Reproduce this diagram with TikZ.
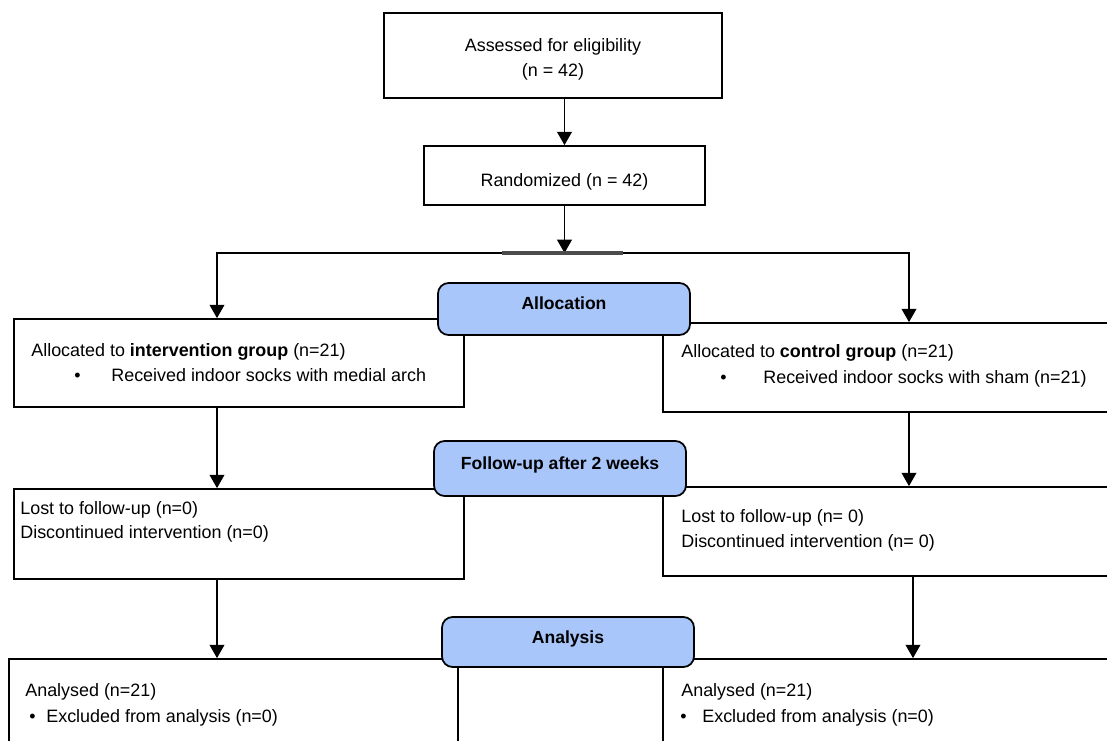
\documentclass[tikz,border=0pt]{standalone}
\usepackage{fontspec}
\setmainfont{Liberation Sans}
\usetikzlibrary{positioning,arrows.meta}
\definecolor{phaseblue}{RGB}{168,198,250}

\tikzset{
  box/.style={draw, line width=1pt, fill=white, inner sep=0pt},
  phase/.style={draw, line width=1pt, fill=phaseblue, rounded corners=6pt, inner sep=0pt},
  txt/.style={anchor=mid west, inner sep=0pt},
  arr/.style={line width=1pt, -{Triangle[width=8.4pt,length=7.6pt]}},
}

\begin{document}
\begin{tikzpicture}[x=0.02cm, y=-0.02cm, font=\fontsize{10.2}{14.2}\selectfont]
  \useasboundingbox (0,0) rectangle (1107,741);
  \clip (0,0) rectangle (1107,741);

  % enrolment
  \node[box, minimum width=6.76cm, minimum height=1.70cm] (assess) at (553,55.5) {};
  \node[align=center, inner sep=0pt] (assesstxt) at (553,59.5) {Assessed for eligibility\\(n = 42)};
  \node[box, minimum width=5.62cm, minimum height=1.18cm] (rand) at (564.5,175.5) {};
  \node[inner sep=0pt] (randtxt) at (564.5,182) {Randomized (n = 42)};

  % group boxes
  \node[box, minimum width=9cm, minimum height=1.76cm] (allocL) at (239,363) {};
  \node[box, minimum width=9.34cm, minimum height=1.78cm] (allocR) at (896.5,367.5) {};
  \node[box, minimum width=9cm, minimum height=1.80cm] (lostL) at (239,534) {};
  \node[box, minimum width=9.34cm, minimum height=1.78cm] (lostR) at (896.5,531.5) {};
  \node[box, minimum width=8.98cm, minimum height=2.42cm] (anaL) at (233.5,719.5) {};
  \node[box, minimum width=9.34cm, minimum height=2.42cm] (anaR) at (896.5,719.5) {};

  % phase labels
  \node[phase, minimum width=5.04cm, minimum height=1.04cm] (alloc) at (564,309) {};
  \node[font=\bfseries, inner sep=0pt] (alloctxt) at (564,303) {Allocation};
  \node[phase, minimum width=5.04cm, minimum height=1.10cm] (follow) at (560,468.5) {};
  \node[font=\bfseries, inner sep=0pt] (followtxt) at (560,465) {Follow-up after 2 weeks};
  \node[phase, minimum width=5.04cm, minimum height=1.00cm] (analysis) at (568,642) {};
  \node[font=\bfseries, inner sep=0pt] (analysistxt) at (568,639) {Analysis};

  % texts
  \node[txt] (allocLa) at (31,352) {Allocated to \textbf{intervention group} (n=21)};
  \node[txt] (allocLdot) at (74,377) {\textbullet};
  \node[txt] (allocLb) at (111,377) {Received indoor socks with medial arch};
  \node[txt] (allocRa) at (681,353) {Allocated to \textbf{control group} (n=21)};
  \node[txt] (allocRdot) at (720,379) {\textbullet};
  \node[txt] (allocRb) at (763,379) {Received indoor socks with sham (n=21)};

  \node[txt] (lostLa) at (20,510) {Lost to follow-up (n=0)};
  \node[txt] (lostLb) at (20,534) {Discontinued intervention (n=0)};
  \node[txt] (lostRa) at (681,518) {Lost to follow-up (n= 0)};
  \node[txt] (lostRb) at (681,543) {Discontinued intervention (n= 0)};

  \node[txt] (anaLa) at (25,692) {Analysed (n=21)};
  \node[txt] (anaLdot) at (29,718) {\textbullet};
  \node[txt] (anaLb) at (46,718) {Excluded from analysis (n=0)};
  \node[txt] (anaRa) at (681,692) {Analysed (n=21)};
  \node[txt] (anaRdot) at (680,718) {\textbullet};
  \node[txt] (anaRb) at (702,718) {Excluded from analysis (n=0)};

  % connectors
  \coordinate (split) at (564.5,253);
  \coordinate (armL) at (217,253);
  \coordinate (armR) at (909,253);
  \coordinate (armR2) at (913,253);
  \draw[arr] (assess.south -| rand.north) -- (rand.north);
  \draw[arr] (rand.south) -- (split);
  \draw[arr] (split) -| (armL |- allocL.north);
  \draw[arr] (split) -| (armR |- allocR.north);
  \draw[black!70, line width=1.8pt] (502,253) -- (623,253);
  \draw[arr] (armL |- allocL.south) -- (armL |- lostL.north);
  \draw[arr] (armR |- allocR.south) -- (armR |- lostR.north);
  \draw[arr] (armL |- lostL.south) -- (armL |- anaL.north);
  \draw[arr] (armR2 |- lostR.south) -- (armR2 |- anaR.north);
\end{tikzpicture}
\end{document}
